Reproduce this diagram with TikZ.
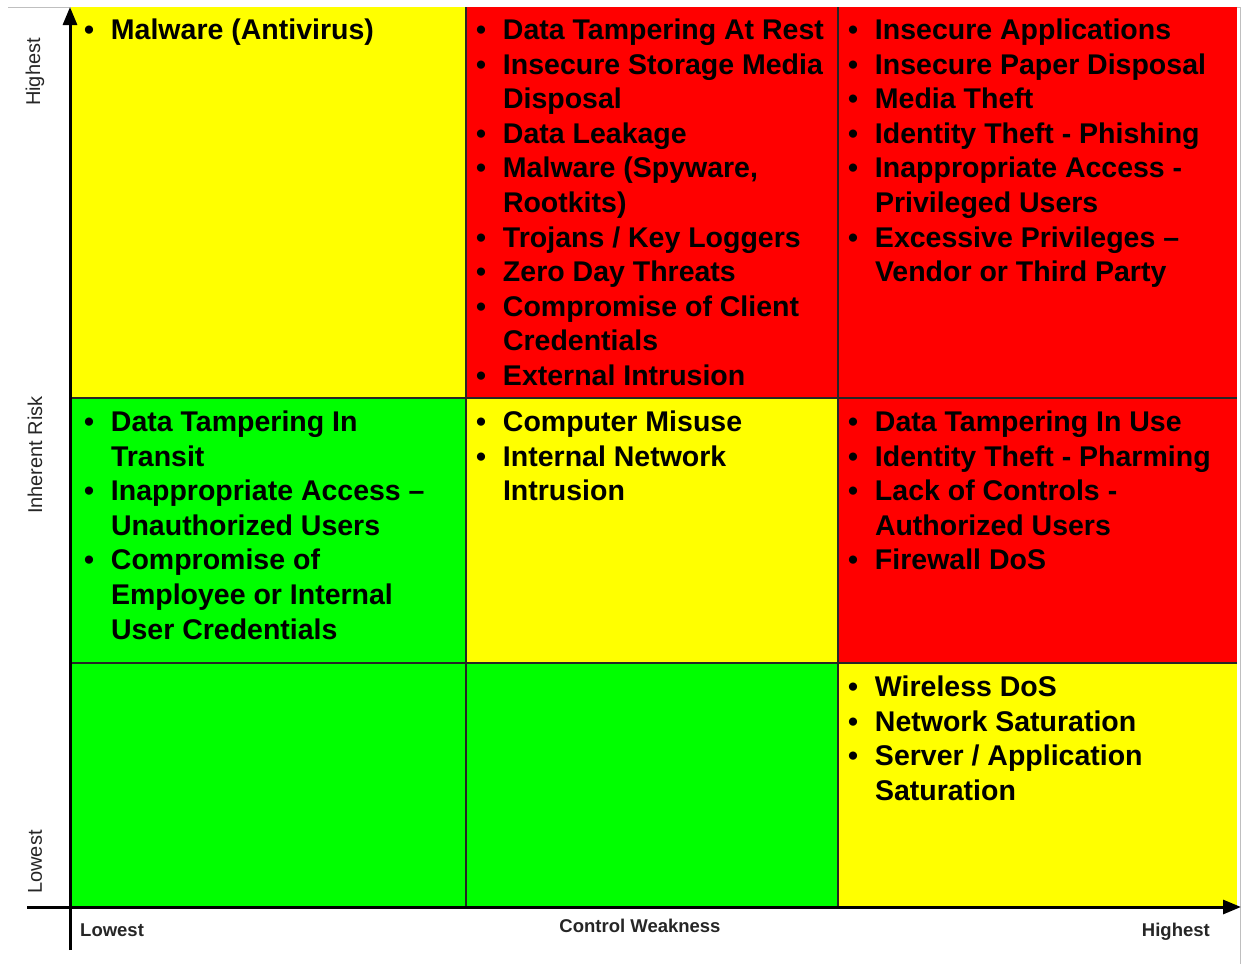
\documentclass[tikz,border=0pt]{standalone}
\usepackage{fontspec}
\setmainfont{Liberation Sans}
\usetikzlibrary{arrows.meta}

\definecolor{cyel}{RGB}{255,255,0}
\definecolor{cred}{RGB}{255,0,0}
\definecolor{cgrn}{RGB}{0,255,0}

% bullet and hanging indent for the risk lists
\newcommand\bul{\makebox[27pt][l]{\textbullet}}
\newcommand\cont{\hspace*{27pt}}
\newcommand\cellitems[1]{\parbox[t]{390pt}{\fontsize{28.5}{34.6}\selectfont\bfseries\raggedright #1}}

\tikzset{
  cellbox/.style={draw=none, inner sep=0pt, outer sep=0pt, anchor=north west},
  gridline/.style={draw=black!85, line width=1.5pt},
  axisline/.style={draw=black, line width=3pt, -{Triangle[length=18pt,width=14pt]}},
  riskbox/.style={inner sep=0pt, outer sep=0pt, anchor=base west},
  sidelabel/.style={inner sep=0pt, rotate=90, font=\fontsize{20}{24}\selectfont, text=black!85},
  baselabel/.style={inner sep=0pt, font=\fontsize{18.5}{22}\selectfont\bfseries, text=black!85},
}

\begin{document}
\begin{tikzpicture}[x=1pt, y=-1pt]
\useasboundingbox (0,0) rectangle (1243,964);
\fill[white] (0,0) rectangle (1243,964);

% faint outer frame
\draw[black!25, line width=1pt] (8,7) -- (1240,7) -- (1240,964);

% matrix cells
\node[cellbox, fill=cyel, minimum width=395pt, minimum height=391pt] (c11) at (71,7) {};
\node[cellbox, fill=cred, minimum width=372pt, minimum height=391pt] (c21) at (466,7) {};
\node[cellbox, fill=cred, minimum width=399pt, minimum height=391pt] (c31) at (838,7) {};
\node[cellbox, fill=cgrn, minimum width=395pt, minimum height=265pt] (c12) at (71,398) {};
\node[cellbox, fill=cyel, minimum width=372pt, minimum height=265pt] (c22) at (466,398) {};
\node[cellbox, fill=cred, minimum width=399pt, minimum height=265pt] (c32) at (838,398) {};
\node[cellbox, fill=cgrn, minimum width=395pt, minimum height=244pt] (c13) at (71,663) {};
\node[cellbox, fill=cgrn, minimum width=372pt, minimum height=244pt] (c23) at (466,663) {};
\node[cellbox, fill=cyel, minimum width=399pt, minimum height=244pt] (c33) at (838,663) {};

% inner grid lines
\draw[gridline] (c21.north west) -- (c23.south west);
\draw[gridline] (c31.north west) -- (c33.south west);
\draw[gridline] (c12.north west) -- (c32.north east);
\draw[gridline] (c13.north west) -- (c33.north east);

% axes
\coordinate (ybot) at (70,950);
\coordinate (ytop) at (70,7);
\coordinate (xleft) at (27,907);
\coordinate (xright) at (1241,907);
\draw[axisline] (ybot) -- (ytop);
\draw[axisline] (xleft) -- (xright);

% risk lists
\node[riskbox] (t11) at (84,39.5) {\cellitems{\bul Malware (Antivirus)}};
\node[riskbox] (t21) at (476,39.5) {\cellitems{%
\bul Data Tampering At Rest\\
\bul Insecure Storage Media\\
\cont Disposal\\
\bul Data Leakage\\
\bul Malware (Spyware,\\
\cont Rootkits)\\
\bul Trojans / Key Loggers\\
\bul Zero Day Threats\\
\bul Compromise of Client\\
\cont Credentials\\
\bul External Intrusion}};
\node[riskbox] (t31) at (848,39.5) {\cellitems{%
\bul Insecure Applications\\
\bul Insecure Paper Disposal\\
\bul Media Theft\\
\bul Identity Theft - Phishing\\
\bul Inappropriate Access -\\
\cont Privileged Users\\
\bul Excessive Privileges --\\
\cont Vendor or Third Party}};
\node[riskbox] (t12) at (84,431.5) {\cellitems{%
\bul Data Tampering In\\
\cont Transit\\
\bul Inappropriate Access --\\
\cont Unauthorized Users\\
\bul Compromise of\\
\cont Employee or Internal\\
\cont User Credentials}};
\node[riskbox] (t22) at (476,431.5) {\cellitems{%
\bul Computer Misuse\\
\bul Internal Network\\
\cont Intrusion}};
\node[riskbox] (t32) at (848,431.5) {\cellitems{%
\bul Data Tampering In Use\\
\bul Identity Theft - Pharming\\
\bul Lack of Controls -\\
\cont Authorized Users\\
\bul Firewall DoS}};
\node[riskbox] (t33) at (848,696.5) {\cellitems{%
\bul Wireless DoS\\
\bul Network Saturation\\
\bul Server / Application\\
\cont Saturation}};

% axis labels
\node[sidelabel] (yhigh) at (35,72) {Highest};
\node[sidelabel] (yname) at (35,455) {Inherent Risk};
\node[sidelabel] (ylow) at (35,862) {Lowest};
\node[baselabel, anchor=base west] (xlow) at (80,936) {Lowest};
\node[baselabel, anchor=base] (xname) at (640,932) {Control Weakness};
\node[baselabel, anchor=base east] (xhigh) at (1210,936) {Highest};
\end{tikzpicture}
\end{document}
